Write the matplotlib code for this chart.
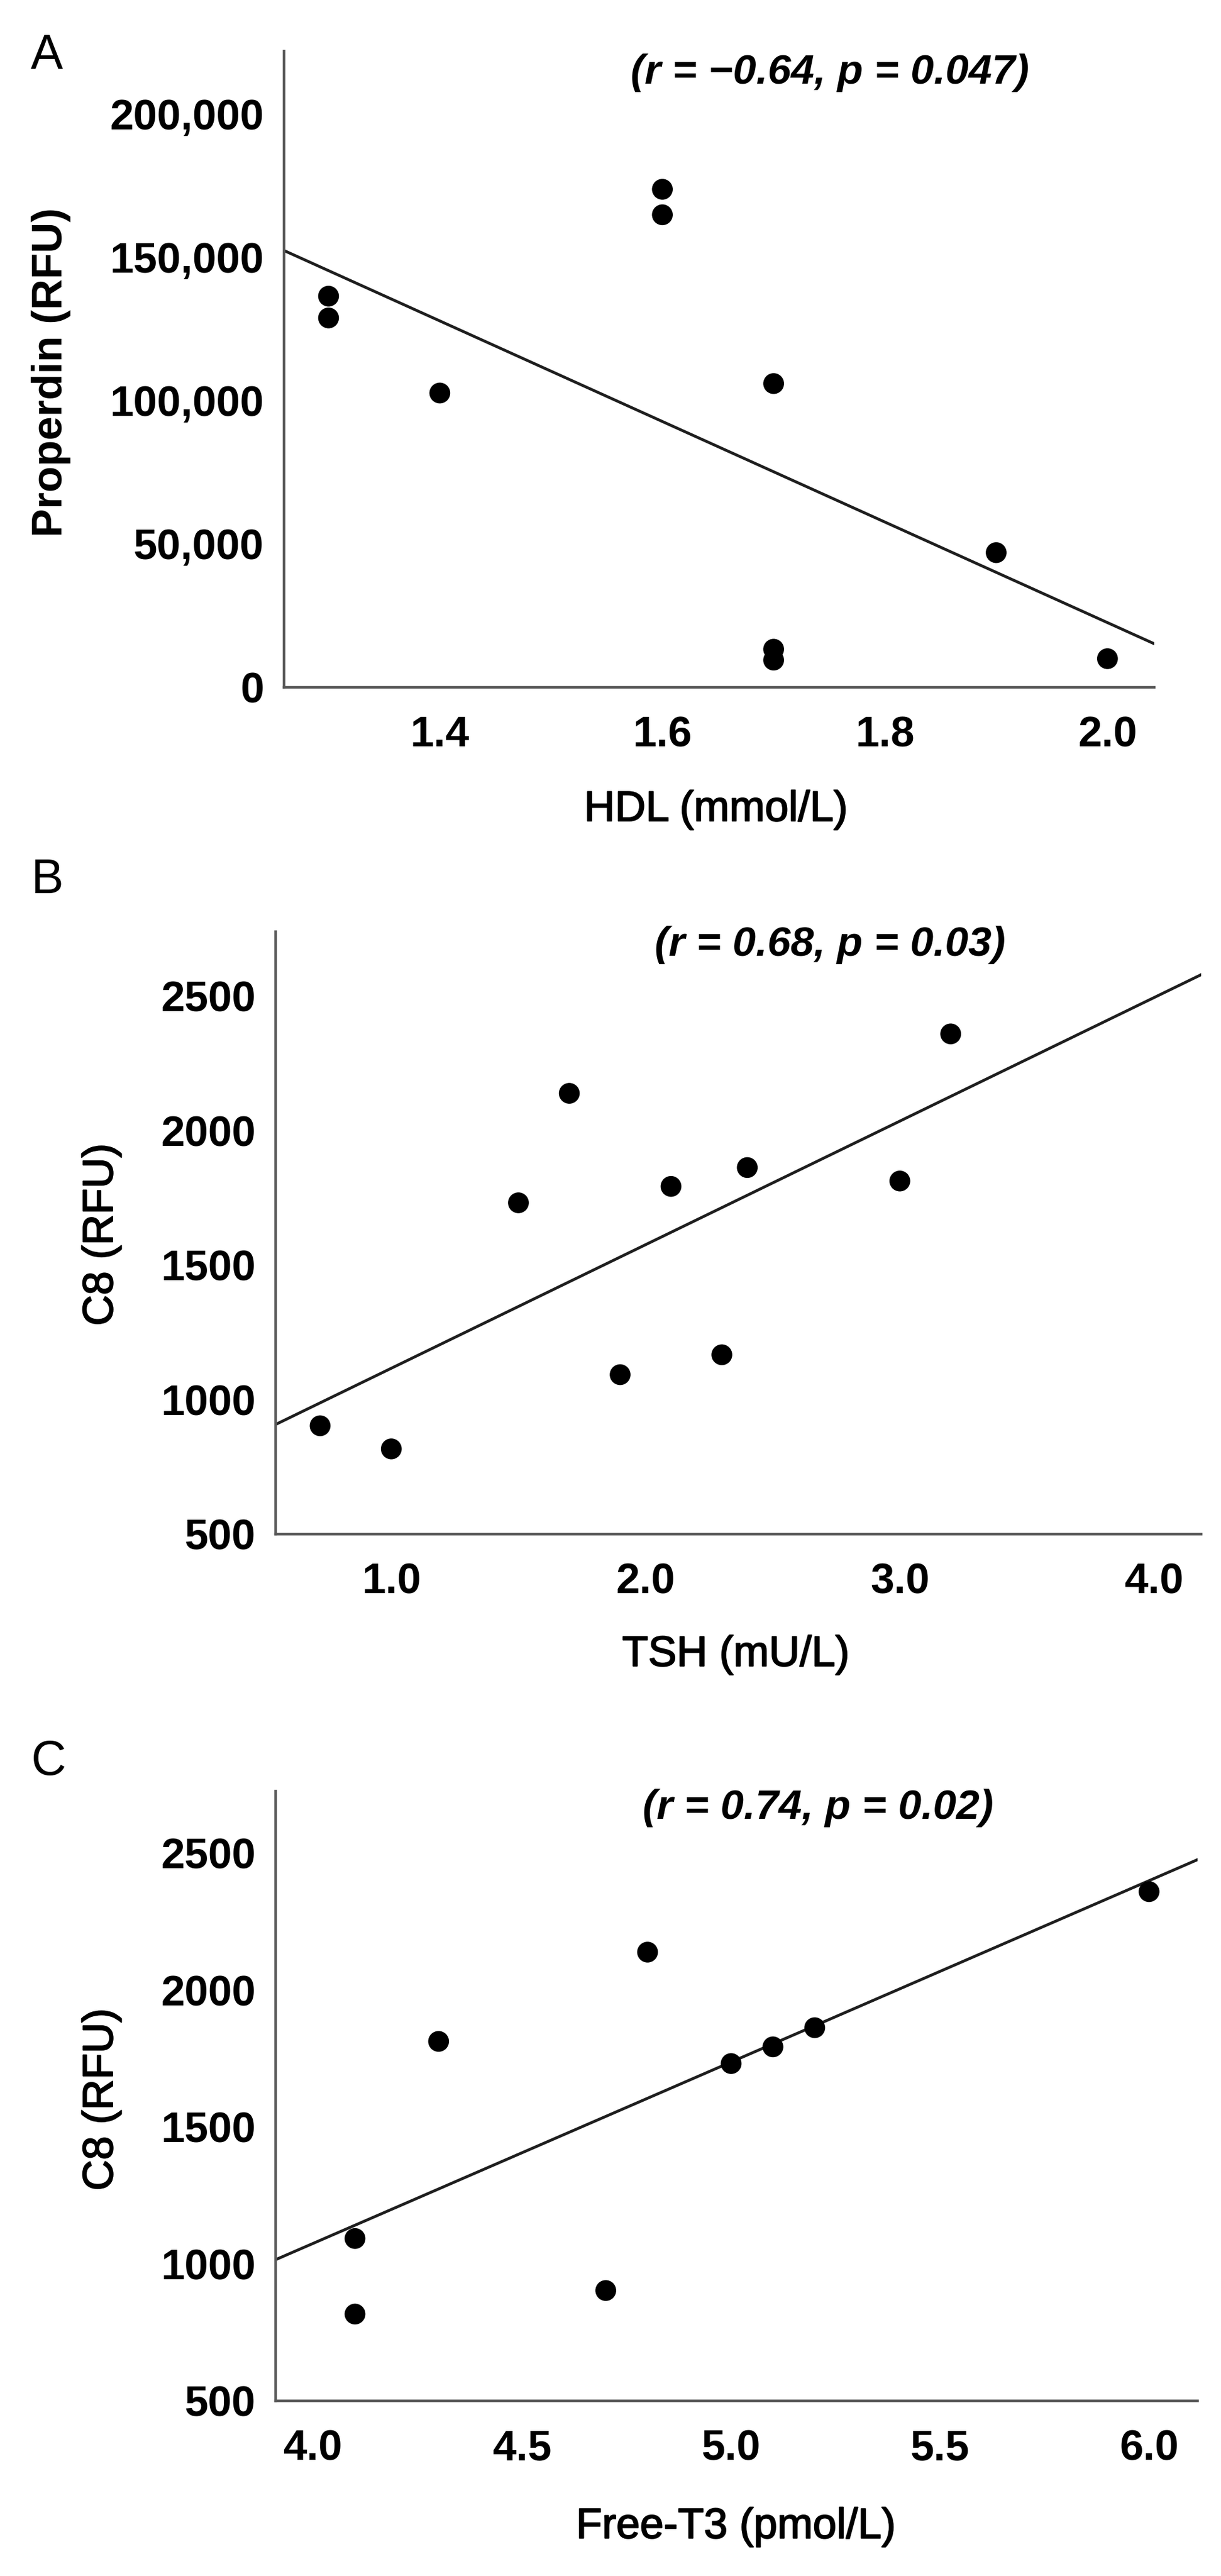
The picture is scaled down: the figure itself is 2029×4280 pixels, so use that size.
import numpy as np
import matplotlib
matplotlib.use("Agg")
import matplotlib.pyplot as plt
import matplotlib.patheffects as pe
from matplotlib.ticker import FuncFormatter

plt.rcParams['font.family'] = ['Liberation Sans', 'DejaVu Sans']

# panel A: HDL vs properdin
hdl = [1.3, 1.3, 1.4, 1.6, 1.6, 1.7, 1.7, 1.7, 1.9, 2.0]
properdin = [136500, 128900, 102700, 173800, 164900, 106000, 13300, 9500, 47000, 10000]

# panel B: TSH vs C8
tsh = [0.72, 1.0, 1.5, 1.7, 1.9, 2.1, 2.3, 2.4, 3.0, 3.2]
c8_tsh = [903, 817, 1732, 2139, 1093, 1793, 1167, 1863, 1813, 2360]

# panel C: free T3 vs C8 (one patient without free-T3)
ft3 = [4.1, 4.1, 4.3, 4.7, 4.8, 5.0, 5.1, 5.2, 6.0]
c8_ft3 = [1093, 817, 1813, 903, 2139, 1732, 1793, 1863, 2360]

W, H = 2029, 4280
fig = plt.figure(figsize=(W / 100, H / 100), dpi=100)

medium = [pe.withStroke(linewidth=1.4, foreground='black')]  # a bit heavier than regular


def px_axes(left, top, right, bottom):
    # pixel box of the plotting area -> figure fraction
    return [left / W, 1 - bottom / H, (right - left) / W, (bottom - top) / H]


def panel(box, x, y, xlim, ylim, xticks, yticks, yfmt, xlabel, ylabel, ylabel_bold=False):
    ax = fig.add_axes(px_axes(*box))
    ax.scatter(x, y, s=620, color='black', edgecolors='none', zorder=3, clip_on=False)

    # least squares line across the whole x range
    b, a = np.polyfit(x, y, 1)
    xx = np.array(xlim)
    ax.plot(xx, a + b * xx, color='#1e1e1e', lw=3.4, zorder=2)

    ax.set_xlim(xlim)
    ax.set_ylim(ylim)
    ax.set_xticks(xticks)
    ax.set_yticks(yticks)
    ax.xaxis.set_major_formatter(FuncFormatter(lambda v, p: f'{v:.1f}'))
    ax.yaxis.set_major_formatter(FuncFormatter(yfmt))
    ax.tick_params(length=0, labelsize=51, pad=24)
    ax.tick_params(axis='x', pad=34)
    for lab in ax.get_xticklabels() + ax.get_yticklabels():
        lab.set_fontweight('bold')

    for s in ['top', 'right']:
        ax.spines[s].set_visible(False)
    for s in ['left', 'bottom']:
        ax.spines[s].set_color('#5a5a5a')
        ax.spines[s].set_linewidth(3.2)

    ax.set_xlabel(xlabel, fontsize=51, va='center', path_effects=medium)
    if ylabel_bold:
        ax.set_ylabel(ylabel, fontsize=51, va='center', fontweight='bold')
    else:
        ax.set_ylabel(ylabel, fontsize=51, va='center', path_effects=medium)
    return ax


def put(px, py, box):
    # pixel point -> axes coords of a panel
    left, top, right, bottom = box
    return (px - left) / (right - left), (bottom - py) / (bottom - top)


# --- A
boxA = (472, 85, 1918, 1142)
axA = panel(boxA, hdl, properdin, (1.26, 2.042), (0, 222000),
            [1.4, 1.6, 1.8, 2.0], [0, 50000, 100000, 150000, 200000],
            lambda v, p: f'{int(v):,}', 'HDL (mmol/L)', 'Properdin (RFU)', ylabel_bold=True)

# --- B
boxB = (458, 1548, 1996, 2549)
axB = panel(boxB, tsh, c8_tsh, (0.545, 4.185), (500, 2740),
            [1.0, 2.0, 3.0, 4.0], [500, 1000, 1500, 2000, 2500],
            lambda v, p: f'{int(v)}', 'TSH (mU/L)', 'C8 (RFU)')

# --- C
boxC = (458, 2976, 1990, 3989)
axC = panel(boxC, ft3, c8_ft3, (3.91, 6.116), (500, 2727),
            [4.0, 4.5, 5.0, 5.5, 6.0], [500, 1000, 1500, 2000, 2500],
            lambda v, p: f'{int(v)}', 'Free-T3 (pmol/L)', 'C8 (RFU)')

layout = [
    (axA, boxA, (85, 619), (1190, 1346), (1379, 121), (78, 92), 'A', '(r = \u22120.64, p = 0.047)'),
    (axB, boxB, (169, 2051), (1223, 2750), (1379, 1570), (78, 1463), 'B', '(r = 0.68, p = 0.03)'),
    (axC, boxC, (169, 3488), (1223, 4199), (1359, 3004), (81, 2928), 'C', '(r = 0.74, p = 0.02)'),
]
for ax, box, ylab, xlab, ann, let, letter, stat in layout:
    ax.yaxis.set_label_coords(*put(*ylab, box))
    ax.xaxis.set_label_coords(*put(*xlab, box))
    ax.text(*put(*ann, box), stat, transform=ax.transAxes, ha='center', va='center',
            fontsize=50, fontweight='bold', fontstyle='italic')
    ax.text(*put(*let, box), letter, transform=ax.transAxes, ha='center', va='center',
            fontsize=58)

fig.savefig('out.png', dpi=100, facecolor='white')
